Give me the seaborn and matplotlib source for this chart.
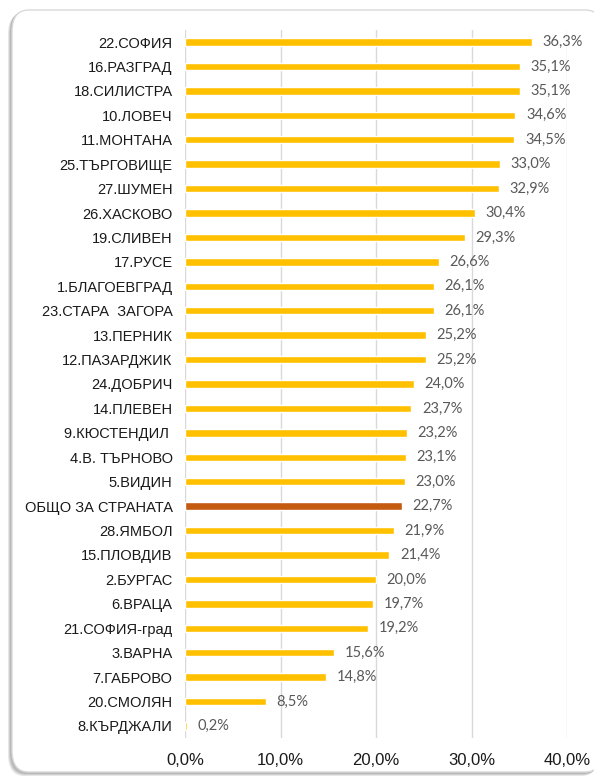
import matplotlib
matplotlib.use("Agg")
import matplotlib.pyplot as plt
from matplotlib import font_manager
from matplotlib.font_manager import FontProperties
from matplotlib.patches import FancyBboxPatch
import seaborn as sns
import pandas as pd

categories = [
    "22.СОФИЯ", "16.РАЗГРАД", "18.СИЛИСТРА", "10.ЛОВЕЧ", "11.МОНТАНА",
    "25.ТЪРГОВИЩЕ", "27.ШУМЕН", "26.ХАСКОВО", "19.СЛИВЕН", "17.РУСЕ",
    "1.БЛАГОЕВГРАД", "23.СТАРА  ЗАГОРА", "13.ПЕРНИК", "12.ПАЗАРДЖИК",
    "24.ДОБРИЧ", "14.ПЛЕВЕН", "9.КЮСТЕНДИЛ ", "4.В. ТЪРНОВО", "5.ВИДИН",
    "ОБЩО ЗА СТРАНАТА", "28.ЯМБОЛ", "15.ПЛОВДИВ", "2.БУРГАС", "6.ВРАЦА",
    "21.СОФИЯ-град", "3.ВАРНА", "7.ГАБРОВО", "20.СМОЛЯН", "8.КЪРДЖАЛИ",
]
values = [
    36.3, 35.1, 35.1, 34.6, 34.5, 33.0, 32.9, 30.4, 29.3, 26.6,
    26.1, 26.1, 25.2, 25.2, 24.0, 23.7, 23.2, 23.1, 23.0, 22.7,
    21.9, 21.4, 20.0, 19.7, 19.2, 15.6, 14.8, 8.5, 0.2,
]
highlight = "ОБЩО ЗА СТРАНАТА"
xticks = [0, 10, 20, 30, 40]


def pick_font(name, size):
    for f in font_manager.fontManager.ttflist:
        if f.name == name and f.weight in (400, "normal", "regular") and f.style == "normal":
            return FontProperties(fname=f.fname, size=size)
    return None


label_fp = (pick_font("Liberation Sans Narrow", 10.5)
            or FontProperties(family="Liberation Sans", size=10.5))
value_font = "Lato" if any(f.name == "Lato" for f in font_manager.fontManager.ttflist) else "DejaVu Sans"

df = pd.DataFrame({"cat": categories, "val": values})
df["grp"] = ["total" if c == highlight else "region" for c in categories]

sns.set_theme(style="white")
plt.rcParams["font.family"] = ["Liberation Sans", "DejaVu Sans"]

fig = plt.figure(figsize=(5.94, 7.78), dpi=100)

# rounded frame with soft shadow on the left and bottom
for k, col in enumerate(["#e6e6e6", "#cfcfcf", "#b8b8b8"]):
    off = 3 - k
    sh = FancyBboxPatch(((11 - off) / 594, (5 - off) / 778), 590 / 594, 763 / 778,
                        boxstyle="round,pad=0,rounding_size=0.028",
                        transform=fig.transFigure, facecolor=col,
                        edgecolor="none", zorder=0)
    fig.patches.append(sh)
frame = FancyBboxPatch((12 / 594, 6 / 778), 590 / 594, 762 / 778,
                       boxstyle="round,pad=0,rounding_size=0.028",
                       transform=fig.transFigure, facecolor="white",
                       edgecolor="#d9d9d9", linewidth=1.0, zorder=1)
fig.patches.append(frame)

ax = fig.add_axes([185 / 594, 1 - 738.2 / 778, (567 - 185) / 594, (738.2 - 29.8) / 778])
ax.set_zorder(2)
ax.patch.set_alpha(0)

sns.barplot(data=df, y="cat", x="val", hue="grp", orient="h",
            palette={"region": "#FFC000", "total": "#C55A11"},
            width=0.3, dodge=False, legend=False, ax=ax, saturation=1)

ax.set_xlim(0, 40)
ax.set_ylim(len(categories) - 0.5, -0.5)
ax.set_xticks(xticks)
ax.set_xticklabels([f"{t:.1f}%".replace(".", ",") for t in xticks])
for lab in ax.get_xticklabels():
    lab.set_fontproperties(label_fp)
    lab.set_fontsize(12)
    lab.set_color("#1a1a1a")
for lab in ax.get_yticklabels():
    lab.set_fontproperties(label_fp)
    lab.set_color("#1a1a1a")
ax.tick_params(axis="x", length=0, pad=11)
ax.tick_params(axis="y", length=0, pad=9)
ax.set_xlabel("")
ax.set_ylabel("")
ax.grid(axis="x", color="#d9d9d9", linewidth=1)
ax.set_axisbelow(True)
for s in ax.spines.values():
    s.set_visible(False)

for i, v in enumerate(values):
    ax.text(v + 1.1, i, f"{v:.1f}%".replace(".", ","), va="center", ha="left",
            fontsize=10.5, color="#595959", family=[value_font, "DejaVu Sans"])

fig.savefig("out.png", dpi=100)
